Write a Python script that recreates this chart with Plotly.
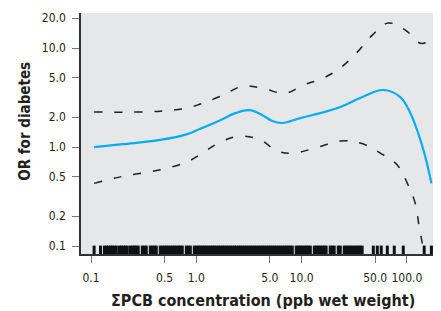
import plotly.graph_objects as go

# ---- data ----
est_x = [0.107, 0.2, 0.455, 0.82, 1.09, 1.69, 2.35, 3.19, 4.24, 5.27, 6.56, 9.7, 15.0, 23.3, 36.0, 59.7, 86.5, 108, 128, 150, 171]
est_y = [1.0, 1.07, 1.18, 1.35, 1.53, 1.87, 2.2, 2.36, 2.1, 1.83, 1.75, 1.96, 2.2, 2.54, 3.13, 3.77, 3.2, 2.2, 1.38, 0.79, 0.43]

up_x = [0.107, 0.455, 0.82, 1.09, 1.69, 2.8, 4.33, 7.0, 10.4, 16.1, 23.3, 33.8, 46.9, 66.7, 96.6, 134, 153]
up_y = [2.26, 2.3, 2.48, 2.72, 3.25, 4.13, 3.9, 3.5, 4.23, 4.98, 6.3, 9.1, 13.5, 17.9, 15.2, 11.2, 11.4]

lo_x = [0.107, 0.19, 0.455, 0.82, 1.09, 1.69, 2.62, 4.05, 5.9, 8.34, 13.5, 23.3, 36.0, 55.9, 81, 101, 120, 131, 140, 146]
lo_y = [0.43, 0.5, 0.59, 0.71, 0.84, 1.12, 1.29, 1.18, 0.91, 0.87, 0.98, 1.15, 1.1, 0.87, 0.66, 0.43, 0.27, 0.155, 0.107, 0.08]

rug_x = [0.107, 0.123, 0.134, 0.140, 0.146, 0.153, 0.159, 0.166, 0.174, 0.186, 0.194, 0.203, 0.212, 0.221,
         0.236, 0.247, 0.258, 0.269, 0.281, 0.307, 0.321, 0.335, 0.366, 0.382, 0.399, 0.417,
         0.455, 0.475, 0.497, 0.519, 0.542, 0.566, 0.592, 0.618, 0.646, 0.675, 0.705, 0.736, 0.804,
         0.840, 0.877, 0.957, 1.00, 1.045, 1.09, 1.14, 1.19, 1.24, 1.30, 1.36, 1.42, 1.48, 1.55, 1.62,
         1.69, 1.77, 1.84, 1.93, 2.01, 2.10, 2.20, 2.30, 2.40, 2.51, 2.62, 2.73, 2.86, 2.98, 3.12, 3.26,
         3.40, 3.55, 3.71, 3.88, 4.05, 4.23, 4.42, 4.62, 4.83, 5.04, 5.27, 5.50, 5.75, 6.01, 6.28, 6.56,
         6.85, 7.15, 7.47, 7.81, 8.16, 8.90, 9.30, 9.71, 10.1, 10.6, 11.1, 11.6, 12.1, 13.2, 13.8,
         14.4, 15.0, 15.7, 16.4, 17.1, 18.7, 19.5, 20.4, 22.3, 23.3, 25.4, 26.5, 27.7, 28.9, 30.2,
         31.6, 33.0, 34.5, 36.0, 37.6, 48.0, 52.4, 57.1, 65.2, 75.9, 92.4, 146, 171]

y_ticks = [0.1, 0.2, 0.5, 1.0, 2.0, 5.0, 10.0, 20.0]
y_tick_labels = ["0.1", "0.2", "0.5", "1.0", "2.0", "5.0", "10.0", "20.0"]
x_ticks = [0.1, 0.5, 1.0, 5.0, 10.0, 50.0, 100.0]
x_tick_labels = ["0.1", "0.5", "1.0", "5.0", "10.0", "50.0", "100.0"]

FONT = "Liberation Sans Narrow, Arial Narrow, DejaVu Sans Condensed, sans-serif"
dash = "8px,12px"

fig = go.Figure()
fig.add_trace(go.Scatter(x=up_x, y=up_y, mode="lines", line=dict(color="#231f20", width=1.5, dash=dash, shape="spline", smoothing=1.1), showlegend=False))
fig.add_trace(go.Scatter(x=lo_x, y=lo_y, mode="lines", line=dict(color="#231f20", width=1.5, dash=dash, shape="spline", smoothing=1.1), showlegend=False))
fig.add_trace(go.Scatter(x=est_x, y=est_y, mode="lines", line=dict(color="#00aeef", width=2.2, shape="spline", smoothing=1.1), showlegend=False))
fig.add_trace(go.Scatter(x=rug_x, y=[0.0145] * len(rug_x), yaxis="y2", mode="markers",
                         marker=dict(symbol="line-ns", size=7, line=dict(width=3, color="#111111")),
                         showlegend=False))

fig.update_layout(
    width=433, height=303,
    margin=dict(l=73, r=0, t=5, b=57, autoexpand=False),
    paper_bgcolor="white", plot_bgcolor="#e6e7e8",
    font=dict(family=FONT, size=12, color="#231f20"),
    xaxis=dict(type="log", range=[-1.095, 2.324], tickvals=x_ticks, ticktext=x_tick_labels,
               automargin=False, tickangle=0,
               showgrid=False, zeroline=False, showline=True, linecolor="#333333", linewidth=1.5,
               ticks="outside", ticklen=7, tickwidth=1.2, tickcolor="#777777", ticklabelstandoff=5,
               tickfont=dict(family=FONT, size=12, color="#231f20")),
    yaxis=dict(type="log", range=[-1.08, 1.354], tickvals=y_ticks, ticktext=y_tick_labels,
               automargin=False,
               showgrid=False, zeroline=False, showline=True, linecolor="#333333", linewidth=1.5,
               ticks="outside", ticklen=7, tickwidth=1.2, tickcolor="#777777", ticklabelstandoff=4,
               tickfont=dict(family=FONT, size=12, color="#231f20")),
    yaxis2=dict(overlaying="y", range=[0, 1], visible=False, fixedrange=True),
    annotations=[
        dict(text="<b>ΣPCB concentration (ppb wet weight)</b>", xref="paper", yref="paper",
             x=0.506, y=-0.191, xanchor="center", yanchor="middle", showarrow=False,
             font=dict(family=FONT, size=16, color="#231f20")),
        dict(text="<b>OR for diabetes</b>", xref="paper", yref="paper", textangle=-90,
             x=-0.156, y=0.552, xanchor="center", yanchor="middle", showarrow=False,
             font=dict(family=FONT, size=15, color="#231f20")),
    ],
)

fig.write_html("out.html")
